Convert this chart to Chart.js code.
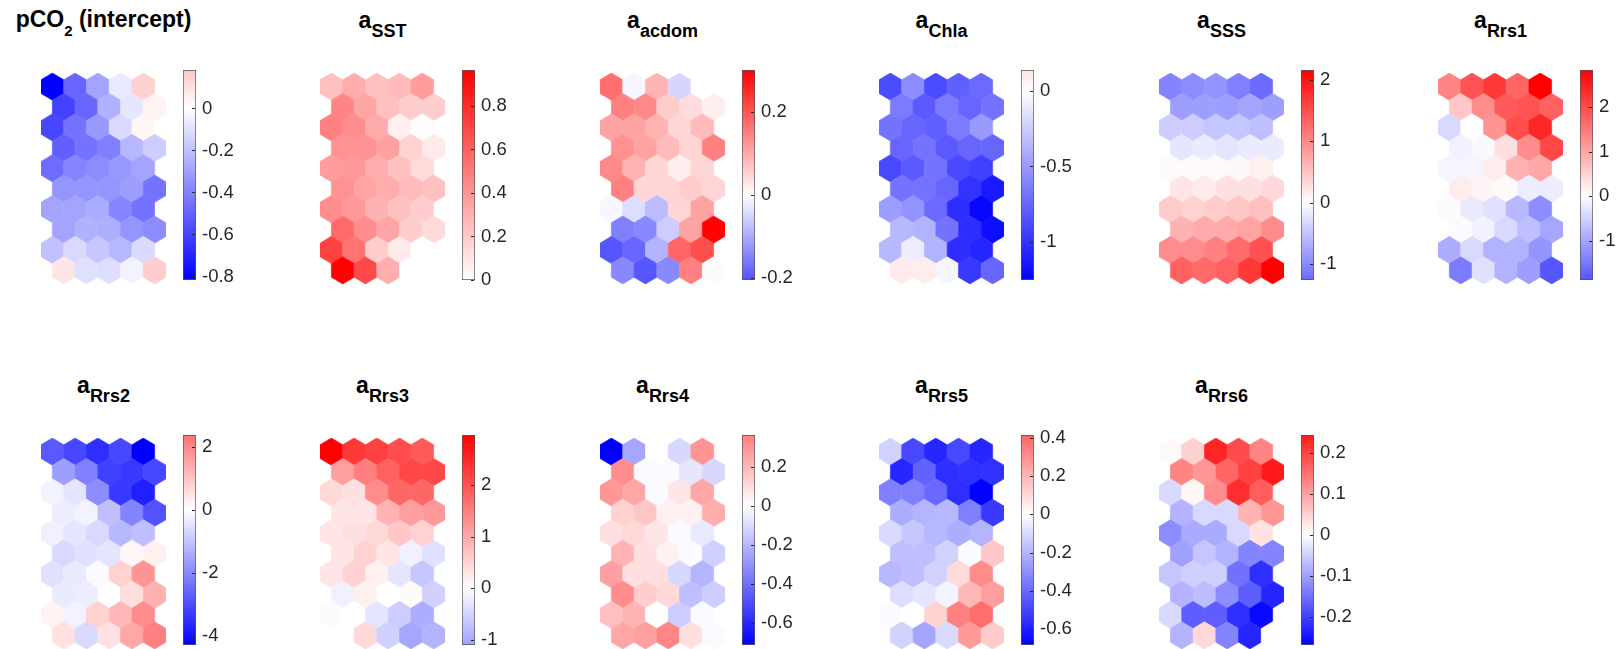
<!DOCTYPE html>
<html>
<head>
<meta charset="utf-8">
<script src="https://cdn.jsdelivr.net/npm/chart.js"></script>
<style>
  body { margin: 0; background: #fff; width: 1618px; height: 649px; position: relative; overflow: hidden;
         font-family: "Liberation Sans", Arial, Helvetica, sans-serif; }
  canvas { position: absolute; }
  .ttl { position: absolute; width: 240px; text-align: center; font-weight: bold; font-size: 23px;
         line-height: 23px; color: #000; white-space: nowrap; }
  .ttl span { position: relative; top: 9px; font-size: 18px; }
</style>
</head>
<body>
<script>
// SOM component planes: 10 rows x 5 columns of hexagons, row by row from the top
const rows = 10, cols = 5;

const titleMain = ['pCO', 'a', 'a', 'a', 'a', 'a', 'a', 'a', 'a', 'a', 'a'];
const titleSub = ['2', 'SST', 'acdom', 'Chla', 'SSS', 'Rrs1', 'Rrs2', 'Rrs3', 'Rrs4', 'Rrs5', 'Rrs6'];
const titleTail = [' (intercept)', '', '', '', '', '', '', '', '', '', ''];

const cbMin = [-0.817, 0, -0.204, -1.253, -1.26, -1.885, -4.285, -1.1, -0.714, -0.682, -0.269];
const cbMax = [0.183, 0.965, 0.302, 0.14, 2.16, 2.83, 2.37, 2.97, 0.362, 0.414, 0.243];
const cbTicks = [
  [-0.8, -0.6, -0.4, -0.2, 0],
  [0, 0.2, 0.4, 0.6, 0.8],
  [-0.2, 0, 0.2],
  [-1, -0.5, 0],
  [-1, 0, 1, 2],
  [-1, 0, 1, 2],
  [-4, -2, 0, 2],
  [-1, 0, 1, 2],
  [-0.6, -0.4, -0.2, 0, 0.2],
  [-0.6, -0.4, -0.2, 0, 0.2, 0.4],
  [-0.2, -0.1, 0, 0.1, 0.2]
];

const pco2 = [
  -0.82, -0.49, -0.29, -0.07, 0.15,
  -0.61, -0.49, -0.25, -0.08, 0.04,
  -0.59, -0.45, -0.33, -0.12, 0.03,
  -0.51, -0.45, -0.41, -0.23, -0.16,
  -0.47, -0.39, -0.37, -0.33, -0.29,
  -0.34, -0.34, -0.34, -0.31, -0.45,
  -0.29, -0.29, -0.27, -0.39, -0.45,
  -0.29, -0.25, -0.26, -0.34, -0.37,
  -0.20, -0.12, -0.18, -0.23, -0.12,
  0.08, -0.10, -0.11, -0.04, 0.16
];
const sst = [
  0.24, 0.31, 0.24, 0.26, 0.37,
  0.46, 0.34, 0.24, 0.19, 0.19,
  0.48, 0.43, 0.32, 0.06, 0.01,
  0.41, 0.41, 0.36, 0.17, 0.08,
  0.37, 0.39, 0.31, 0.24, 0.14,
  0.41, 0.35, 0.31, 0.26, 0.24,
  0.43, 0.39, 0.29, 0.24, 0.19,
  0.56, 0.43, 0.34, 0.19, 0.14,
  0.72, 0.53, 0.19, 0.08, 0.00,
  0.96, 0.69, 0.31, 0.00, 0.00
];
const acdom = [
  0.17, -0.01, 0.09, -0.05, 0.00,
  0.15, 0.14, 0.06, 0.04, 0.02,
  0.11, 0.11, 0.09, 0.05, 0.08,
  0.13, 0.11, 0.08, 0.05, 0.15,
  0.14, 0.09, 0.05, 0.02, 0.05,
  0.15, 0.05, 0.05, 0.06, 0.05,
  -0.01, -0.04, -0.08, 0.05, 0.11,
  -0.15, -0.14, -0.06, 0.11, 0.30,
  -0.20, -0.18, -0.09, 0.18, 0.21,
  -0.14, -0.20, -0.14, 0.15, -0.003
];
const chla = [
  -0.88, -0.56, -0.88, -0.78, -0.73,
  -0.65, -0.81, -0.65, -0.75, -0.69,
  -0.69, -0.75, -0.78, -0.65, -0.50,
  -0.75, -0.69, -0.81, -0.75, -0.75,
  -0.90, -0.81, -0.69, -0.90, -0.94,
  -0.69, -0.69, -0.75, -1.00, -1.13,
  -0.48, -0.53, -0.73, -1.03, -1.22,
  -0.35, -0.38, -0.69, -1.03, -1.19,
  -0.35, -0.09, -0.38, -1.03, -1.07,
  0.10, 0.09, -0.05, -0.98, -0.75
];
const sss = [
  -1.04, -0.97, -0.91, -1.08, -1.25,
  -0.82, -0.82, -0.82, -0.76, -0.82,
  -0.43, -0.43, -0.48, -0.48, -0.54,
  -0.22, -0.17, -0.22, -0.17, -0.17,
  0.04, 0.04, 0.04, 0.06, 0.13,
  0.22, 0.17, 0.26, 0.26, 0.32,
  0.43, 0.39, 0.43, 0.48, 0.54,
  0.65, 0.71, 0.71, 0.78, 0.97,
  0.97, 0.97, 1.08, 1.25, 1.47,
  1.34, 1.25, 1.34, 1.68, 2.16
];
const rrs1 = [
  1.36, 1.92, 2.21, 1.70, 2.83,
  0.62, 1.27, 1.84, 1.92, 1.75,
  -0.42, 0.00, 1.19, 1.98, 2.41,
  -0.14, -0.08, 0.34, 1.27, 2.04,
  -0.11, -0.11, 0.20, 0.85, 0.99,
  0.20, 0.11, 0.06, -0.20, -0.20,
  -0.03, -0.23, -0.34, -0.79, -1.27,
  -0.03, -0.14, -0.42, -0.71, -0.99,
  -0.91, -0.42, -0.85, -0.85, -1.19,
  -1.47, -0.34, -0.85, -1.08, -1.88
];
const rrs2 = [
  -2.79, -3.09, -3.51, -3.09, -4.29,
  -1.63, -2.14, -3.21, -3.34, -3.09,
  -0.21, -0.43, -1.93, -3.34, -3.77,
  -0.30, -0.21, -1.07, -2.06, -2.91,
  -0.26, -0.43, -0.64, -1.20, -1.07,
  -0.64, -0.51, -0.43, 0.13, 0.26,
  -0.51, -0.34, -0.09, 0.77, 1.80,
  -0.34, -0.30, 0.00, 0.56, 1.29,
  0.21, -0.21, 0.77, 1.20, 1.93,
  0.51, -0.64, 0.51, 1.50, 2.14
];
const rrs3 = [
  2.97, 2.32, 2.23, 2.08, 1.93,
  1.13, 1.49, 1.84, 2.14, 2.14,
  0.45, 0.36, 1.34, 1.78, 1.78,
  0.30, 0.30, 0.89, 1.13, 1.19,
  0.30, 0.36, 0.45, 0.65, 0.53,
  0.30, 0.53, 0.30, -0.18, -0.36,
  0.30, 0.53, 0.18, -0.30, -0.65,
  -0.18, 0.18, 0.00, 0.06, -0.53,
  -0.03, 0.00, -0.30, -0.59, -0.95,
  0.00, 0.45, -0.53, -1.04, -0.89
];
const rrs4 = [
  -0.71, -0.25, 0.00, -0.11, 0.30,
  0.32, -0.01, -0.01, -0.07, -0.11,
  0.29, 0.25, -0.01, 0.07, 0.25,
  0.13, 0.16, 0.04, 0.04, 0.23,
  0.09, 0.11, 0.07, -0.01, -0.06,
  0.21, 0.09, 0.04, -0.01, -0.13,
  0.27, 0.09, 0.09, -0.11, -0.21,
  0.32, 0.14, 0.11, -0.18, -0.14,
  0.18, 0.21, 0.00, -0.14, -0.01,
  0.25, 0.27, 0.34, 0.09, -0.01
];
const rrs5 = [
  -0.12, -0.49, -0.58, -0.49, -0.58,
  -0.58, -0.42, -0.56, -0.55, -0.55,
  -0.34, -0.34, -0.40, -0.56, -0.68,
  -0.22, -0.20, -0.19, -0.34, -0.53,
  -0.10, -0.15, -0.19, -0.22, -0.20,
  -0.17, -0.17, -0.12, -0.01, 0.15,
  -0.19, -0.17, -0.12, 0.10, 0.31,
  -0.09, -0.07, -0.03, 0.19, 0.26,
  -0.01, 0.00, 0.12, 0.34, 0.39,
  -0.12, -0.24, -0.10, 0.27, 0.14
];
const rrs6 = [
  0.005, 0.05, 0.23, 0.19, 0.13,
  0.13, 0.11, 0.16, 0.20, 0.24,
  -0.04, 0.01, 0.12, 0.22, 0.17,
  -0.08, -0.04, -0.04, 0.08, 0.11,
  -0.12, -0.09, -0.09, -0.04, 0.03,
  -0.10, -0.06, -0.08, -0.13, -0.13,
  -0.06, -0.05, -0.05, -0.15, -0.22,
  -0.08, -0.07, -0.12, -0.17, -0.23,
  -0.04, -0.17, -0.17, -0.22, -0.26,
  -0.08, 0.04, -0.13, -0.23, 0.00
];

const planes = [pco2, sst, acdom, chla, sss, rrs1, rrs2, rrs3, rrs4, rrs5, rrs6];

// blue - white - red, white at zero, scaled by the larger end of the colour limits
function cmap(v, m) {
  const t = Math.max(-1, Math.min(1, v / m));
  const k = Math.round(255 * (1 - Math.abs(t)));
  return t < 0 ? 'rgb(' + k + ',' + k + ',255)' : 'rgb(255,' + k + ',' + k + ')';
}

// draws a hexagon round every point the scatter controller placed
const hexPlugin = {
  id: 'hexes',
  afterDatasetsDraw(chart) {
    const ctx = chart.ctx, x = chart.scales.x, y = chart.scales.y;
    const hw = Math.abs(x.getPixelForValue(0.5) - x.getPixelForValue(0));
    const hh = Math.abs(y.getPixelForValue(2 / 3) - y.getPixelForValue(0));
    ctx.save();
    chart.getDatasetMeta(0).data.forEach(pt => {
      ctx.beginPath();
      ctx.moveTo(pt.x, pt.y - hh);
      ctx.lineTo(pt.x + hw, pt.y - hh / 2);
      ctx.lineTo(pt.x + hw, pt.y + hh / 2);
      ctx.lineTo(pt.x, pt.y + hh);
      ctx.lineTo(pt.x - hw, pt.y + hh / 2);
      ctx.lineTo(pt.x - hw, pt.y - hh / 2);
      ctx.closePath();
      ctx.fillStyle = pt.options.backgroundColor;
      ctx.strokeStyle = pt.options.backgroundColor;
      ctx.lineWidth = 0.6;
      ctx.fill();
      ctx.stroke();
    });
    ctx.restore();
  }
};

// short inward tick marks on the right edge of the colorbar
const cbTickPlugin = {
  id: 'cbTicks',
  afterDatasetsDraw(chart) {
    const ctx = chart.ctx, a = chart.chartArea, y = chart.scales.y;
    ctx.save();
    ctx.strokeStyle = '#262626';
    ctx.lineWidth = 1;
    y.ticks.forEach(t => {
      const py = Math.round(y.getPixelForValue(t.value)) + 0.5;
      ctx.beginPath();
      ctx.moveTo(a.right - 1, py);
      ctx.lineTo(a.right - 4, py);
      ctx.stroke();
    });
    ctx.restore();
  }
};

function addCanvas(left, top, w, h) {
  const c = document.createElement('canvas');
  c.width = w; c.height = h;
  c.style.left = left + 'px'; c.style.top = top + 'px';
  c.style.width = w + 'px'; c.style.height = h + 'px';
  document.body.appendChild(c);
  return c;
}

planes.forEach((vals, i) => {
  const pc = i % 6, pr = Math.floor(i / 6);
  const gx = Math.round(41 + 279.4 * pc);
  const gy = 73 + 365 * pr;
  const lo = cbMin[i], hi = cbMax[i];
  const m = Math.max(Math.abs(lo), Math.abs(hi));

  // title
  const d = document.createElement('div');
  d.className = 'ttl';
  d.style.left = (gx + 62.5 - 120) + 'px';
  d.style.top = (i === 0 ? 8 : 9 + 365 * pr) + 'px';
  d.innerHTML = titleMain[i] + '<span' + (i === 0 ? ' style="font-size:15px"' : '') + '>' +
    titleSub[i] + '</span>' + titleTail[i];
  document.body.appendChild(d);

  // hexagon map
  const pts = vals.map((v, k) => {
    const r = Math.floor(k / cols), c = k % cols;
    return { x: c + (r % 2 ? 0.5 : 0), y: r, v: v };
  });
  new Chart(addCanvas(gx, gy, 125, 211), {
    type: 'scatter',
    data: {
      datasets: [{
        data: pts,
        pointRadius: 0,
        backgroundColor: c => cmap(c.raw ? c.raw.v : 0, m)
      }]
    },
    options: {
      responsive: false,
      animation: false,
      events: [],
      layout: { padding: 0 },
      plugins: { legend: { display: false }, tooltip: { enabled: false } },
      scales: {
        x: { type: 'linear', display: false, min: -0.5, max: cols },
        y: { type: 'linear', display: false, min: -2 / 3, max: rows - 1 + 2 / 3, reverse: true }
      }
    },
    plugins: [hexPlugin]
  });

  // colorbar
  const cbW = 76, pad = 14;
  const cbTop = 70 + 365 * pr;
  new Chart(addCanvas(gx + 142 - 2, cbTop - pad, cbW, 210 + 2 * pad), {
    type: 'bar',
    data: {
      labels: [''],
      datasets: [{
        data: [[lo, hi]],
        barPercentage: 1,
        categoryPercentage: 1,
        borderColor: '#555',
        borderWidth: 1,
        borderSkipped: false,
        backgroundColor: c => {
          const a = c.chart.chartArea;
          if (!a) return null;
          const g = c.chart.ctx.createLinearGradient(0, a.bottom, 0, a.top);
          g.addColorStop(0, cmap(lo, m));
          if (lo < 0 && hi > 0) g.addColorStop(-lo / (hi - lo), '#ffffff');
          g.addColorStop(1, cmap(hi, m));
          return g;
        }
      }]
    },
    options: {
      responsive: false,
      animation: false,
      events: [],
      layout: { padding: { left: 2, right: 0, top: pad, bottom: pad } },
      plugins: { legend: { display: false }, tooltip: { enabled: false } },
      scales: {
        x: { display: false },
        y: {
          position: 'right',
          min: lo,
          max: hi,
          afterBuildTicks: s => { s.ticks = cbTicks[i].map(v => ({ value: v })); },
          afterFit: s => { s.width = cbW - 2 - 13; s.paddingTop = 0; s.paddingBottom = 0; },
          grid: { display: false, drawTicks: false },
          border: { display: false },
          ticks: {
            autoSkip: false,
            padding: 6,
            color: '#262626',
            font: { family: '"Liberation Sans", Arial, Helvetica, sans-serif', size: 18.5 },
            callback: v => String(v)
          }
        }
      }
    },
    plugins: [cbTickPlugin]
  });
});
</script>
</body>
</html>
